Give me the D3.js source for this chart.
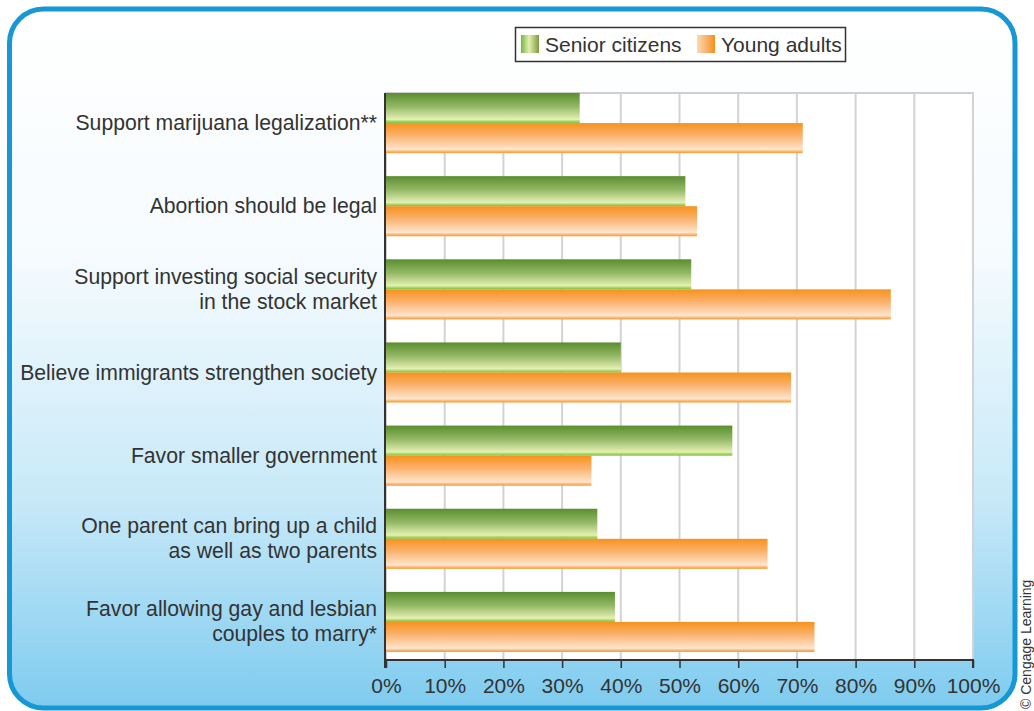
<!DOCTYPE html>
<html>
<head>
<meta charset="utf-8">
<script src="https://cdn.jsdelivr.net/npm/d3@7"></script>
<style>
  html, body { margin: 0; padding: 0; background: #ffffff; }
  svg { display: block; }
  text { font-family: "Liberation Sans", Arial, sans-serif; fill: #333333; }
</style>
</head>
<body>
<svg id="chart" width="1034" height="711"></svg>
<script>
// Survey items (top to bottom), each label split into display lines
const categories = [
  ["Support marijuana legalization**"],
  ["Abortion should be legal"],
  ["Support investing social security", "in the stock market"],
  ["Believe immigrants strengthen society"],
  ["Favor smaller government"],
  ["One parent can bring up a child", "as well as two parents"],
  ["Favor allowing gay and lesbian", "couples to marry*"]
];
const seriesNames = ["Senior citizens", "Young adults"];
const seniorValues = [33, 51, 52, 40, 59, 36, 39];
const youngValues  = [71, 53, 86, 69, 35, 65, 73];
const xTicks = [0, 10, 20, 30, 40, 50, 60, 70, 80, 90, 100];

const W = 1034, H = 711;
const plot = { left: 386, right: 973, top: 93, bottom: 660 };

const svg = d3.select("#chart");
const defs = svg.append("defs");

// Frame background: white fading to sky blue at the bottom
const bg = defs.append("linearGradient").attr("id", "bgGrad")
  .attr("x1", 0).attr("y1", 0).attr("x2", 0).attr("y2", 1);
bg.append("stop").attr("offset", "0").attr("stop-color", "#ffffff");
bg.append("stop").attr("offset", "0.35").attr("stop-color", "#f6fbfe");
bg.append("stop").attr("offset", "0.7").attr("stop-color", "#c8e9f8");
bg.append("stop").attr("offset", "1").attr("stop-color", "#7ecbef");

// Bar fills: saturated top edge fading to a pale bottom, with a bright rim
const gGreen = defs.append("linearGradient").attr("id", "barGreen")
  .attr("x1", 0).attr("y1", 0).attr("x2", 0).attr("y2", 1);
[["0", "#5a8e2e"], ["0.45", "#93b865"], ["0.88", "#e6f0b4"], ["0.92", "#b8e07a"], ["1", "#76bf3e"]]
  .forEach(([o, c]) => gGreen.append("stop").attr("offset", o).attr("stop-color", c));

const gOrange = defs.append("linearGradient").attr("id", "barOrange")
  .attr("x1", 0).attr("y1", 0).attr("x2", 0).attr("y2", 1);
[["0", "#f7921c"], ["0.4", "#fab06a"], ["0.88", "#fde5cf"], ["0.92", "#fbc38c"], ["1", "#f79a30"]]
  .forEach(([o, c]) => gOrange.append("stop").attr("offset", o).attr("stop-color", c));

// Legend swatches: horizontal shading
const lgGreen = defs.append("linearGradient").attr("id", "legGreen")
  .attr("x1", 0).attr("y1", 0).attr("x2", 1).attr("y2", 0);
[["0", "#74b743"], ["0.45", "#e4efb0"], ["1", "#7d9a3e"]]
  .forEach(([o, c]) => lgGreen.append("stop").attr("offset", o).attr("stop-color", c));
const lgOrange = defs.append("linearGradient").attr("id", "legOrange")
  .attr("x1", 0).attr("y1", 0).attr("x2", 1).attr("y2", 0);
[["0", "#fdd9b4"], ["0.55", "#fab06a"], ["1", "#f5901a"]]
  .forEach(([o, c]) => lgOrange.append("stop").attr("offset", o).attr("stop-color", c));

// Rounded frame
svg.append("rect")
  .attr("x", 9.5).attr("y", 9).attr("width", 1005.5).attr("height", 699)
  .attr("rx", 34).attr("ry", 34)
  .attr("fill", "url(#bgGrad)")
  .attr("stroke", "#1598d3").attr("stroke-width", 5);

// Scales
const x = d3.scaleLinear().domain([0, 100]).range([plot.left, plot.right]);
const y = d3.scaleBand().domain(d3.range(categories.length))
  .range([plot.top, 652]).paddingInner(0.277).paddingOuter(0);
const ySub = d3.scaleBand().domain([0, 1]).range([0, y.bandwidth()]);

// Plot area
svg.append("rect")
  .attr("x", plot.left).attr("y", plot.top)
  .attr("width", plot.right - plot.left).attr("height", plot.bottom - plot.top)
  .attr("fill", "#ffffff").attr("stroke", "#cfcfcf").attr("stroke-width", 2);

// Vertical gridlines
svg.append("g").selectAll("line")
  .data(xTicks.filter(t => t > 0))
  .join("line")
  .attr("x1", d => x(d)).attr("x2", d => x(d))
  .attr("y1", plot.top).attr("y2", plot.bottom)
  .attr("stroke", "#d3d3d3").attr("stroke-width", 2);

// Bars
const rows = categories.map((c, i) => ({ i, vals: [seniorValues[i], youngValues[i]] }));
const fills = ["url(#barGreen)", "url(#barOrange)"];
const groups = svg.append("g").selectAll("g")
  .data(rows).join("g")
  .attr("transform", d => `translate(0,${y(d.i)})`);
groups.selectAll("rect")
  .data(d => d.vals.map((v, k) => ({ v, k })))
  .join("rect")
  .attr("x", x(0))
  .attr("y", d => ySub(d.k))
  .attr("width", d => x(d.v) - x(0))
  .attr("height", ySub.bandwidth())
  .attr("fill", d => fills[d.k]);

// Category labels
const labels = svg.append("g").selectAll("text")
  .data(categories.map((lines, i) => ({ lines, i })))
  .join("text")
  .attr("text-anchor", "end")
  .attr("font-size", 21.2);
labels.each(function (d) {
  const cy = y(d.i) + y.bandwidth() / 2;
  const lh = 25;
  const start = cy - (d.lines.length - 1) * lh / 2 + 7;
  d3.select(this).selectAll("tspan")
    .data(d.lines).join("tspan")
    .attr("x", 377)
    .attr("y", (l, k) => start + k * lh)
    .text(l => l);
});

// Axes
const xAxis = d3.axisBottom(x).tickValues(xTicks).tickSize(8).tickPadding(10)
  .tickFormat(d => d + "%");
const ax = svg.append("g").attr("transform", `translate(0,${plot.bottom})`).call(xAxis);
ax.select(".domain").attr("stroke", "#333").attr("stroke-width", 2)
  .attr("d", `M${plot.left - 1},8V0H${plot.right}V8`);
ax.selectAll(".tick line").attr("stroke", "#333").attr("stroke-width", 1.5);
ax.selectAll(".tick text")
  .attr("font-family", "Liberation Sans, Arial, sans-serif")
  .attr("font-size", 21).attr("fill", "#333");

svg.append("line")
  .attr("x1", plot.left - 1).attr("x2", plot.left - 1)
  .attr("y1", plot.top).attr("y2", plot.bottom)
  .attr("stroke", "#333").attr("stroke-width", 2);

// Legend
const legend = svg.append("g");
legend.append("rect")
  .attr("x", 515.5).attr("y", 27.5).attr("width", 330).attr("height", 34)
  .attr("fill", "#ffffff").attr("stroke", "#333").attr("stroke-width", 1.5);
const legItems = [
  { name: seriesNames[0], fill: "url(#legGreen)", sx: 521, tx: 545 },
  { name: seriesNames[1], fill: "url(#legOrange)", sx: 697, tx: 721 }
];
legend.selectAll("g.item").data(legItems).join("g").attr("class", "item")
  .each(function (d) {
    const g = d3.select(this);
    g.append("rect").attr("x", d.sx).attr("y", 35).attr("width", 18).attr("height", 18)
      .attr("fill", d.fill);
    g.append("text").attr("x", d.tx).attr("y", 52).attr("font-size", 21).text(d.name);
  });

// Credit line, rotated along the right edge
svg.append("text")
  .attr("transform", "translate(1031,709) rotate(-90)")
  .attr("font-size", 14)
  .attr("fill", "#222")
  .text("© Cengage Learning");
</script>
</body>
</html>
